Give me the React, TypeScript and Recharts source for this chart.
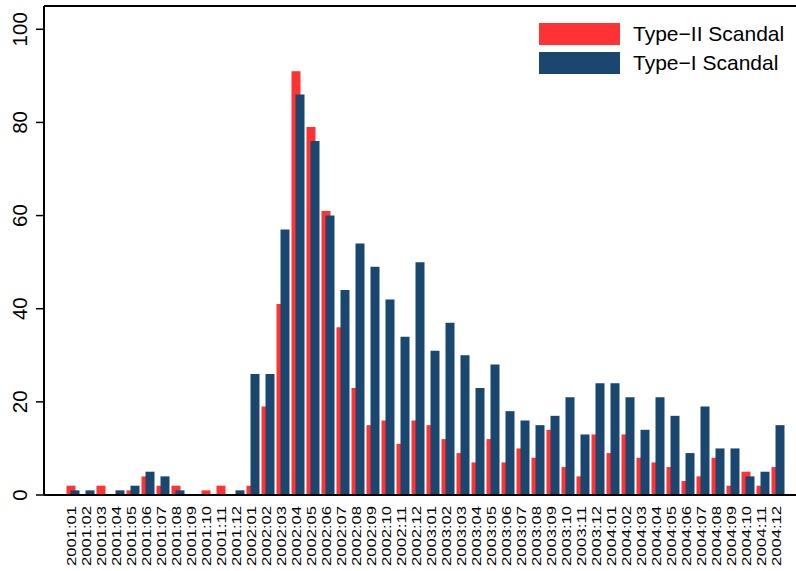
import React from 'react'
import { BarChart, Bar, XAxis, YAxis, ReferenceLine } from 'recharts'

const months = [
  '2001:01', '2001:02', '2001:03', '2001:04', '2001:05', '2001:06', '2001:07', '2001:08', '2001:09', '2001:10', '2001:11', '2001:12',
  '2002:01', '2002:02', '2002:03', '2002:04', '2002:05', '2002:06', '2002:07', '2002:08', '2002:09', '2002:10', '2002:11', '2002:12',
  '2003:01', '2003:02', '2003:03', '2003:04', '2003:05', '2003:06', '2003:07', '2003:08', '2003:09', '2003:10', '2003:11', '2003:12',
  '2004:01', '2004:02', '2004:03', '2004:04', '2004:05', '2004:06', '2004:07', '2004:08', '2004:09', '2004:10', '2004:11', '2004:12',
]

const typeII = [
  2, 0, 2, 0, 1, 4, 2, 2, 0, 1, 2, 0,
  2, 19, 41, 91, 79, 61, 36, 23, 15, 16, 11, 16,
  15, 12, 9, 7, 12, 7, 10, 8, 14, 6, 4, 13,
  9, 13, 8, 7, 6, 3, 4, 8, 2, 5, 2, 6,
]

const typeI = [
  1, 1, 0, 1, 2, 5, 4, 1, 0, 0, 0, 1,
  26, 26, 57, 86, 76, 60, 44, 54, 49, 42, 34, 50,
  31, 37, 30, 23, 28, 18, 16, 15, 17, 21, 13, 24,
  24, 21, 14, 21, 17, 9, 19, 10, 10, 4, 5, 15,
]

const yTicks = [0, 20, 40, 60, 80, 100]

const series = [
  { key: 'typeII', name: 'Type−II Scandal', color: '#ff3333' },
  { key: 'typeI', name: 'Type−I Scandal', color: '#1a476f' },
]

const data = months.map((m, i) => ({ month: m, typeII: typeII[i], typeI: typeI[i] }))

const FONT = '"Liberation Sans", Arial, sans-serif'

const MonthTick = (props: any) => {
  const { x, payload } = props
  return (
    <text
      transform={`translate(${x + 2.5},506) rotate(-90)`}
      textAnchor="end"
      fontFamily={FONT}
      fontSize={13}
      fill="#000"
      textLength={60}
      lengthAdjust="spacingAndGlyphs"
    >
      {payload.value}
    </text>
  )
}

const ValueTick = (props: any) => {
  const { y, payload } = props
  return (
    <text
      transform={`translate(26.7,${y}) rotate(-90)`}
      textAnchor="middle"
      fontFamily={FONT}
      fontSize={20.5}
      fill="#000"
    >
      {payload.value}
    </text>
  )
}

export default function App() {
  return (
    <div style={{ position: 'absolute', left: 0, top: 0, width: 796, height: 571 }}>
      <BarChart
        width={796}
        height={571}
        data={data}
        margin={{ top: 6, right: 0, left: 0, bottom: 0 }}
        barGap={-5}
      >
        <XAxis
          dataKey="month"
          interval={0}
          height={76}
          padding={{ left: 21.5, right: 10.5 }}
          tickLine={false}
          axisLine={{ stroke: '#000', strokeWidth: 2 }}
          tick={<MonthTick />}
        />
        <YAxis
          width={44}
          domain={[0, 105]}
          ticks={yTicks}
          tickSize={8}
          tickLine={{ stroke: '#000', strokeWidth: 1.5 }}
          axisLine={{ stroke: '#000', strokeWidth: 2 }}
          tick={<ValueTick />}
        />
        <ReferenceLine y={105} stroke="#000" strokeWidth={2} />
        {series.map((s) => (
          <Bar key={s.key} dataKey={s.key} name={s.name} fill={s.color} barSize={9} isAnimationActive={false} />
        ))}
      </BarChart>
      <div style={{ position: 'absolute', left: 539, top: 19, fontFamily: FONT, fontSize: 21, color: '#000' }}>
        {series.map((s) => (
          <div key={s.key} style={{ display: 'flex', alignItems: 'center', height: 29.6 }}>
            <div style={{ width: 81, height: 22, background: s.color, marginRight: 13 }} />
            <span>{s.name}</span>
          </div>
        ))}
      </div>
    </div>
  )
}
